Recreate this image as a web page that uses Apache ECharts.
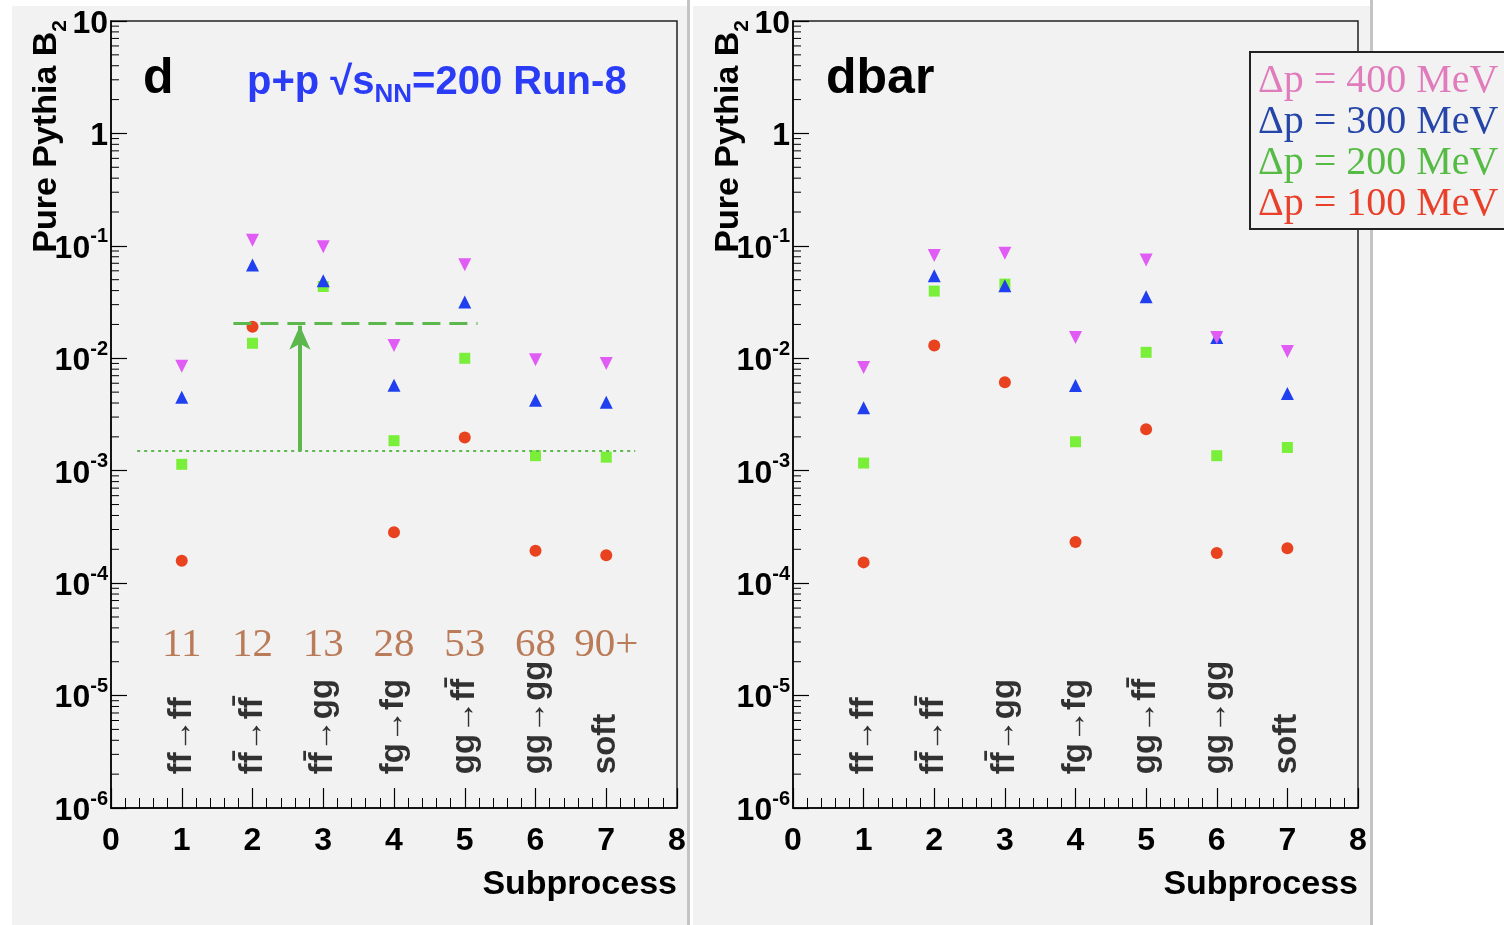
<!DOCTYPE html>
<html>
<head>
<meta charset="utf-8">
<script src="https://cdn.jsdelivr.net/npm/echarts@6/dist/echarts.min.js"></script>
<style>
html, body { margin: 0; padding: 0; background: #fff; }
#chart { width: 1504px; height: 925px; }
</style>
</head>
<body>
<div id="chart"></div>
<script>
// subprocess index on x, B2 on log y
var subprocess = [1, 2, 3, 4, 5, 6, 7];
var procNames = ['ff\u2192ff', 'ff\u0304\u2192ff\u0304', 'ff\u0304\u2192gg', 'fg\u2192fg', 'gg\u2192ff\u0304', 'gg\u2192gg', 'soft'];
var pythiaCodes = ['11', '12', '13', '28', '53', '68', '90+'];
var seriesNames = ['\u0394p = 400 MeV', '\u0394p = 300 MeV', '\u0394p = 200 MeV', '\u0394p = 100 MeV'];

// y axis tick labels (10^exp)
var yTickBase = ['10', '10', '10', '10', '10', '10', '1', '10'];
var yTickSup = ['-6', '-5', '-4', '-3', '-2', '-1', '', ''];

// d panel
var d400 = [0.0085, 0.112, 0.098, 0.0130, 0.068, 0.0097, 0.0090];
var d300 = [0.0045, 0.0675, 0.049, 0.00575, 0.0316, 0.00424, 0.00407];
var d200 = [0.00114, 0.0136, 0.0435, 0.00185, 0.0100, 0.00136, 0.00132];
var d100 = [1.58e-4, 0.0191, null, 2.83e-4, 0.00197, 1.94e-4, 1.77e-4];

// dbar panel
var dbar400 = [0.0083, 0.082, 0.086, 0.0153, 0.0747, 0.0153, 0.0115];
var dbar300 = [0.00363, 0.0542, 0.0441, 0.00573, 0.0352, 0.0153, 0.00487];
var dbar200 = [0.00117, 0.0396, 0.0457, 0.00181, 0.0113, 0.00136, 0.00161];
var dbar100 = [1.53e-4, 0.0130, 0.00612, 2.32e-4, 0.00234, 1.85e-4, 2.04e-4];

// annotation in d panel (data units)
var plateauLevel = 0.0205, plateauRange = [1.73, 5.18];
var baseLevel = 0.00149, baseRange = [0.37, 7.41];
var arrowX = 2.67, arrowRange = [0.00149, 0.0195];

// where the text rows sit (data units)
var procLabelY = 2e-6;
var codeLabelY = 2.8e-5;

var FONT = "'Liberation Sans', Arial, sans-serif";
var SERIF = "'Liberation Serif', 'Times New Roman', serif";
var markerColors = ['#e05cf4', '#2040f0', '#7aef3a', '#e8421f'];
var legendColors = ['#e07cbc', '#2545a8', '#55bb44', '#e8402a'];
var markerSymbols = ['triangle', 'triangle', 'rect', 'circle'];
var markerRotate = [180, 0, 0, 0];
var markerSize = [13, 13, 11, 12];
var lineGreen = '#5cb84c';

// log minor ticks 2..9 per decade
var yMinorTicks = [];
for (var e = -6; e < 1; e++) {
    for (var k = 2; k < 10; k++) {
        yMinorTicks.push(k * Math.pow(10, e));
    }
}

function pts(vals) {
    var out = [];
    for (var i = 0; i < subprocess.length; i++) {
        if (vals[i] != null) out.push([subprocess[i], vals[i]]);
    }
    return out;
}

function xAxisCfg(g) {
    return {
        type: 'value', gridIndex: g, min: 0, max: 8, interval: 1,
        axisLine: { show: true, onZero: false, lineStyle: { color: '#000', width: 1.5 } },
        axisTick: { show: true, inside: true, length: 20, lineStyle: { color: '#000', width: 1.2 } },
        minorTick: { show: true, splitNumber: 5, length: 10, lineStyle: { color: '#000', width: 1 } },
        splitLine: { show: false },
        axisLabel: { color: '#000', fontSize: 32, fontWeight: 'bold', fontFamily: FONT, margin: 17 }
    };
}

function yAxisCfg(g) {
    return {
        type: 'log', logBase: 10, gridIndex: g, min: 1e-6, max: 10, splitNumber: 7,
        axisLine: { show: true, onZero: false, lineStyle: { color: '#000', width: 1.5 } },
        axisTick: { show: true, inside: true, length: 16, lineStyle: { color: '#000', width: 1.2 } },
        splitLine: { show: false },
        axisLabel: {
            margin: 3,
            formatter: function (v) {
                var i = Math.round(Math.log10(v)) + 6;
                if (i < 0 || i >= yTickBase.length) return '';
                return yTickSup[i] ? '{b|' + yTickBase[i] + '}{s|' + yTickSup[i] + '}' : '{b|' + yTickBase[i] + '}';
            },
            rich: {
                b: { fontSize: 32, fontWeight: 'bold', fontFamily: FONT, color: '#000', lineHeight: 38, verticalAlign: 'bottom' },
                s: { fontSize: 20, fontWeight: 'bold', fontFamily: FONT, color: '#000', lineHeight: 20, verticalAlign: 'top' }
            }
        }
    };
}

function panelSeries(g, sets, withCodes) {
    var list = [];
    list.push({
        type: 'custom', xAxisIndex: g, yAxisIndex: g, silent: true, clip: false, animation: false, z: 1,
        data: yMinorTicks.map(function (v) { return [0, v]; }),
        renderItem: function (params, api) {
            var p = api.coord([0, api.value(1)]);
            return { type: 'line', shape: { x1: p[0], y1: p[1], x2: p[0] + 8, y2: p[1] }, style: { stroke: '#000', lineWidth: 1 } };
        }
    });
    // draw 100 first so 400 lands on top
    for (var s = 3; s >= 0; s--) {
        list.push({
            name: seriesNames[s], type: 'scatter', xAxisIndex: g, yAxisIndex: g,
            symbol: markerSymbols[s], symbolRotate: markerRotate[s], symbolSize: markerSize[s],
            itemStyle: { color: markerColors[s], opacity: 1 },
            data: pts(sets[s]), animation: false, z: 3
        });
    }
    list.push({
        type: 'scatter', xAxisIndex: g, yAxisIndex: g, silent: true, symbolSize: 1, animation: false,
        itemStyle: { color: 'rgba(0,0,0,0)' },
        data: subprocess.map(function (x) { return [x, procLabelY]; }),
        label: {
            show: true, position: 'inside', rotate: 90, align: 'left', verticalAlign: 'middle',
            formatter: function (p) { return procNames[p.dataIndex]; },
            color: '#000', fontSize: 33, fontWeight: 'bold', fontFamily: FONT
        }
    });
    if (withCodes) {
        list.push({
            type: 'scatter', xAxisIndex: g, yAxisIndex: g, silent: true, symbolSize: 1, animation: false,
            itemStyle: { color: 'rgba(0,0,0,0)' },
            data: subprocess.map(function (x) { return [x, codeLabelY]; }),
            label: {
                show: true, position: 'inside', align: 'center', verticalAlign: 'middle',
                formatter: function (p) { return pythiaCodes[p.dataIndex]; },
                color: '#ab5c32', fontSize: 41, fontFamily: SERIF
            }
        });
        list.push({
            type: 'line', xAxisIndex: g, yAxisIndex: g, data: [], silent: true, animation: false,
            markLine: {
                silent: true, symbol: 'none', label: { show: false }, animation: false,
                data: [
                    [{ coord: [plateauRange[0], plateauLevel], lineStyle: { color: lineGreen, width: 3, type: [18, 9] } },
                     { coord: [plateauRange[1], plateauLevel] }],
                    [{ coord: [baseRange[0], baseLevel], lineStyle: { color: lineGreen, width: 2, type: [3, 4] } },
                     { coord: [baseRange[1], baseLevel] }],
                    [{ coord: [arrowX, arrowRange[0]], symbol: 'none', lineStyle: { color: lineGreen, width: 4, type: 'solid' } },
                     { coord: [arrowX, arrowRange[1]], symbol: 'arrow', symbolSize: [16, 24] }]
                ]
            }
        });
    }
    return list;
}

function yTitle(x) {
    return {
        type: 'text', x: x, y: 20, rotation: Math.PI / 2, z: 50,
        style: {
            text: '{a|Pure Pythia B}{s|2}', align: 'right', verticalAlign: 'middle',
            rich: {
                a: { fontSize: 34, fontWeight: 'bold', fontFamily: FONT, fill: '#000', lineHeight: 34, verticalAlign: 'top' },
                s: { fontSize: 21, fontWeight: 'bold', fontFamily: FONT, fill: '#000', lineHeight: 21, padding: [26, 0, 0, 0] }
            }
        }
    };
}

var chart = echarts.init(document.getElementById('chart'), null, { renderer: 'canvas' });
chart.setOption({
    backgroundColor: '#fff',
    animation: false,
    graphic: [
        { type: 'rect', shape: { x: 12, y: 6, width: 675, height: 919 }, style: { fill: '#f2f2f2' }, z: -10 },
        { type: 'rect', shape: { x: 687, y: 0, width: 3, height: 925 }, style: { fill: '#c4c4c4' }, z: -10 },
        { type: 'rect', shape: { x: 693, y: 6, width: 677, height: 919 }, style: { fill: '#f2f2f2' }, z: -10 },
        { type: 'rect', shape: { x: 1370, y: 0, width: 3, height: 925 }, style: { fill: '#c4c4c4' }, z: -10 },
        yTitle(47), yTitle(729),
        { type: 'text', x: 143, y: 79, z: 50, style: { text: 'd', font: 'bold 50px ' + FONT, fill: '#000', verticalAlign: 'middle' } },
        { type: 'text', x: 826, y: 79, z: 50, style: { text: 'dbar', font: 'bold 50px ' + FONT, fill: '#000', verticalAlign: 'middle' } },
        {
            type: 'text', x: 247, y: 63, z: 50,
            style: {
                text: '{a|p+p \u221As}{n|NN}{a|=200 Run-8}', verticalAlign: 'top',
                rich: {
                    a: { fontSize: 40, fontWeight: 'bold', fontFamily: FONT, fill: '#2b3cf6', lineHeight: 40, verticalAlign: 'top' },
                    n: { fontSize: 26, fontWeight: 'bold', fontFamily: FONT, fill: '#2b3cf6', lineHeight: 26, padding: [24, 0, 0, 0] }
                }
            }
        },
        { type: 'text', x: 677, y: 885, z: 50, style: { text: 'Subprocess', font: 'bold 34px ' + FONT, fill: '#000', align: 'right', verticalAlign: 'middle' } },
        { type: 'text', x: 1358, y: 885, z: 50, style: { text: 'Subprocess', font: 'bold 34px ' + FONT, fill: '#000', align: 'right', verticalAlign: 'middle' } }
    ],
    legend: {
        left: 1250, top: 52, orient: 'vertical', selectedMode: false,
        itemWidth: 0, itemHeight: 0, itemGap: 0,
        padding: [9, 14, 4, 3],
        backgroundColor: '#f2f2f2', borderColor: '#222', borderWidth: 2,
        itemStyle: { color: 'rgba(0,0,0,0)' },
        textStyle: { fontFamily: SERIF, fontSize: 40, lineHeight: 41 },
        data: seriesNames.map(function (n, i) { return { name: n, textStyle: { color: legendColors[i] } }; })
    },
    grid: [
        { left: 111, top: 21, width: 566, height: 787, show: true, backgroundColor: '#f2f2f2', borderColor: '#222', borderWidth: 1.5, outerBoundsMode: 'none' },
        { left: 793, top: 21, width: 565, height: 787, show: true, backgroundColor: '#f2f2f2', borderColor: '#222', borderWidth: 1.5, outerBoundsMode: 'none' }
    ],
    xAxis: [xAxisCfg(0), xAxisCfg(1)],
    yAxis: [yAxisCfg(0), yAxisCfg(1)],
    series: panelSeries(0, [d400, d300, d200, d100], true)
        .concat(panelSeries(1, [dbar400, dbar300, dbar200, dbar100], false))
});
</script>
</body>
</html>
